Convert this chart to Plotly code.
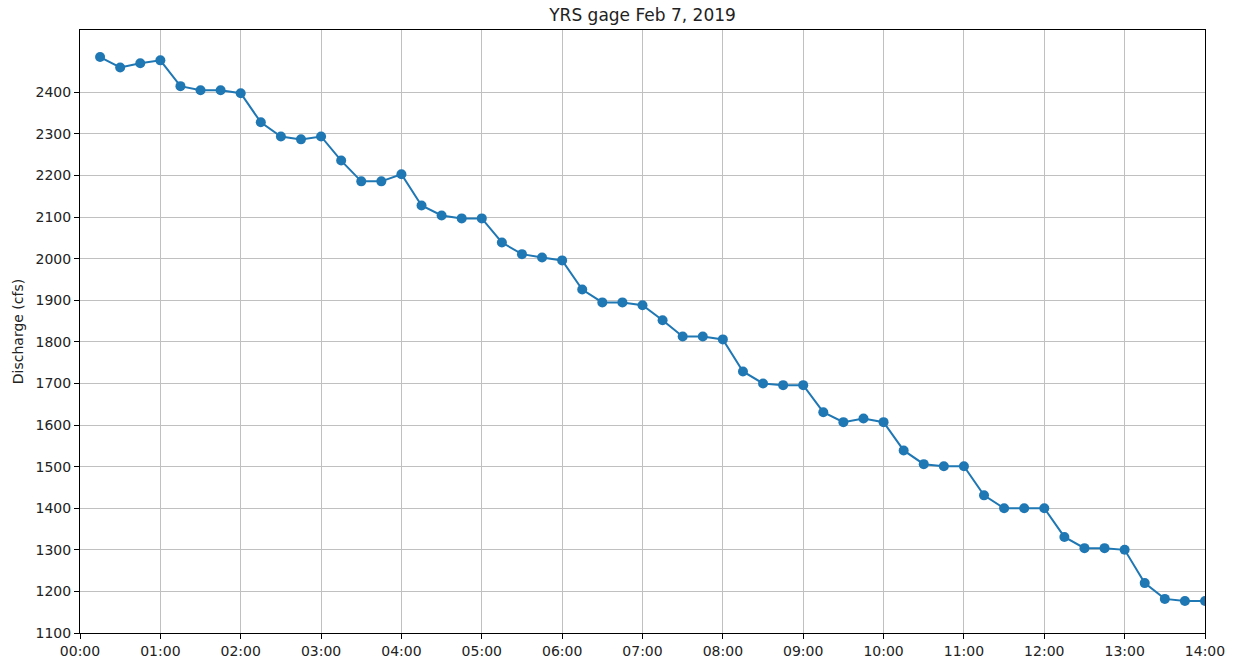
import plotly.graph_objects as go
import pandas as pd

times = pd.date_range("2019-02-07 00:15", "2019-02-07 14:00", freq="15min")
discharge = [
    2485, 2460, 2470, 2477, 2415, 2405, 2405, 2398,
    2328, 2294, 2287, 2294, 2236, 2186, 2186, 2203,
    2128, 2104, 2097, 2097, 2039, 2011, 2003, 1996,
    1926, 1895, 1895, 1888, 1852, 1813, 1813, 1806,
    1729, 1700, 1696, 1696, 1631, 1607, 1616, 1607,
    1539, 1506, 1501, 1501, 1431, 1400, 1400, 1400,
    1331, 1304, 1304, 1300, 1220, 1182, 1177, 1177,
]
y_ticks = list(range(1100, 2401, 100))
x_ticks = pd.date_range("2019-02-07 00:00", "2019-02-07 14:00", freq="1h")
x_labels = [t.strftime("%H:%M") for t in x_ticks]

fig = go.Figure()
fig.add_trace(go.Scatter(
    x=times, y=discharge, mode="lines+markers",
    line=dict(color="#1f77b4", width=2),
    marker=dict(color="#1f77b4", size=10),
    showlegend=False,
))

axis_common = dict(
    showgrid=True, gridcolor="#c0c0c0", gridwidth=1,
    showline=True, linecolor="black", linewidth=1, mirror=True,
    ticks="outside", ticklen=5, tickcolor="black",
    tickfont=dict(family="DejaVu Sans", size=14, color="#222222"),
    zeroline=False, automargin=False,
)

fig.update_layout(
    width=1234, height=659,
    margin=dict(l=80, r=29, t=30, b=26),
    paper_bgcolor="white", plot_bgcolor="white",
    title=dict(text="YRS gage Feb 7, 2019", x=0.5207, xanchor="center",
               y=0.977, yanchor="middle",
               font=dict(family="DejaVu Sans", size=17, color="#222222")),
    xaxis=dict(range=[x_ticks[0], x_ticks[-1]], tickvals=x_ticks, ticktext=x_labels,
               **axis_common),
    yaxis=dict(range=[1100, 2550], tickvals=y_ticks,
               title=dict(text="Discharge (cfs)", standoff=8,
                          font=dict(family="DejaVu Sans", size=14, color="#222222")),
               **axis_common),
)

fig.write_html("out.html", config={"displayModeBar": False},
               post_script="document.body.style.margin='0';document.body.style.overflow='hidden';")
